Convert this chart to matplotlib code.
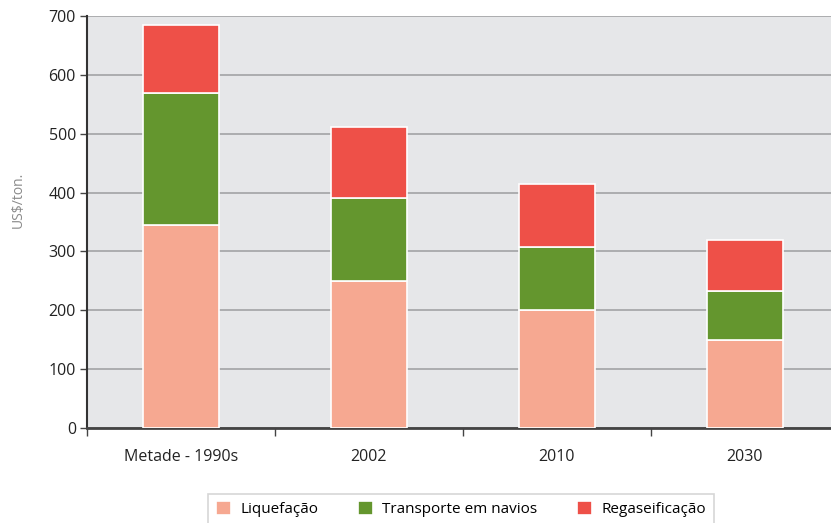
import matplotlib
matplotlib.use("Agg")
import matplotlib.pyplot as plt
import numpy as np

categories = ["Metade - 1990s", "2002", "2010", "2030"]
liquefacao = [345, 250, 200, 150]
transporte = [225, 140, 108, 82]
regaseificacao = [115, 122, 107, 88]
series_names = ["Liquefação", "Transporte em navios", "Regaseificação"]
colors = ["#F6A891", "#64962E", "#EE5048"]

plt.rcParams['font.family'] = ['Open Sans', 'DejaVu Sans']

fig = plt.figure(figsize=(8.31, 5.23), dpi=100)
ax = fig.add_axes([87/831, 1-428/523, (831-87)/831, (428-16)/523])
ax.set_facecolor("#E6E7E9")

x = np.arange(len(categories))
bottom = np.zeros(len(categories))
handles = []
for vals, c, name in zip([liquefacao, transporte, regaseificacao], colors, series_names):
    b = ax.bar(x, vals, width=0.405, bottom=bottom, color=c, edgecolor="white",
               linewidth=1.2, label=name, zorder=3)
    handles.append(b)
    bottom += np.array(vals)

ax.set_yticks(range(0, 701, 100))
ax.yaxis.grid(True, color="#A7A8AA", linewidth=1.3, zorder=1)
ax.set_axisbelow(True)

ax.set_xticks(x)
ax.set_xticklabels(categories, fontsize=11.5, color="#222222")
ax.tick_params(axis='x', length=0, pad=15)
ax.set_xticks(np.arange(-0.5, 4, 1), minor=True)
ax.tick_params(axis='x', which='minor', length=6, width=1, color="#444444", direction='out')
ax.tick_params(axis='y', length=5, width=1, color="#444444", labelsize=11.5, labelcolor="#222222", pad=3)

ax.set_ylim(0, 700)
ax.set_xlim(-0.5, 3.46)

for s in ["top", "right"]:
    ax.spines[s].set_visible(False)
ax.spines["left"].set_color("#333333")
ax.spines["left"].set_linewidth(1.5)
ax.spines["bottom"].set_color("#444444")
ax.spines["bottom"].set_linewidth(2)

fig.text(18/831, 1-200/523, "US$/ton.", rotation=90, fontsize=10, color="#8A8A8A",
         ha="center", va="center")

leg = fig.legend(handles=handles, labels=series_names, loc="upper center",
                 bbox_to_anchor=(461/831, 1-486/523), ncol=3, frameon=True,
                 fontsize=11, handlelength=1.0, handleheight=1.0, columnspacing=2.6,
                 handletextpad=0.6, borderpad=0.5, fancybox=False)
leg.get_frame().set_edgecolor("#CCCCCC")
leg.get_frame().set_linewidth(1.2)

fig.savefig("out.png", dpi=100)
